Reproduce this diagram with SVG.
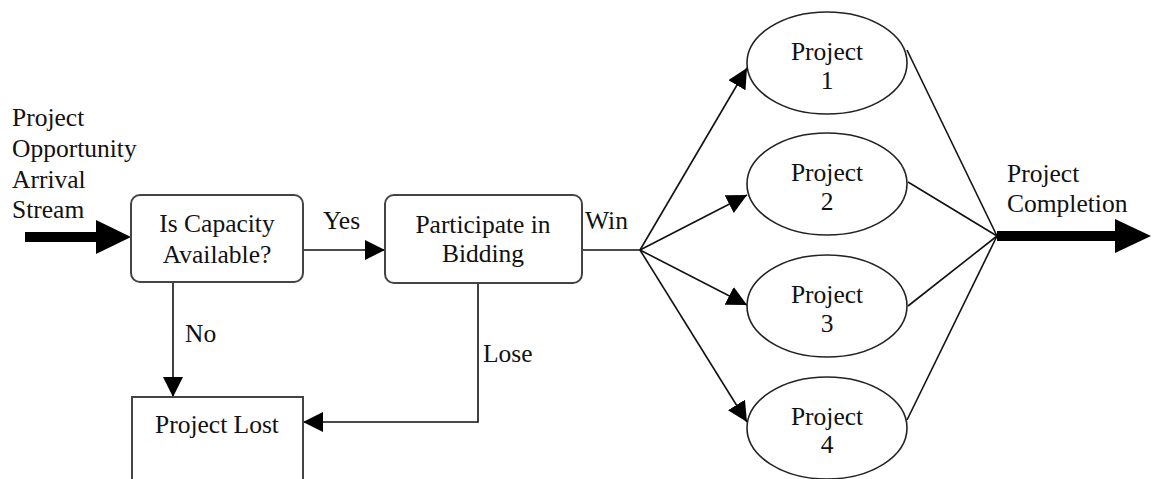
<svg xmlns="http://www.w3.org/2000/svg" width="1154" height="479" viewBox="0 0 1154 479">
  <style>
    text { font-family: "Liberation Serif", "Times New Roman", serif; font-size: 25.5px; fill: #111; }
    .mid { text-anchor: middle; }
    .box { fill: #fff; stroke: #444; stroke-width: 2; }
    .ell { fill: #fff; stroke: #222; stroke-width: 1.6; }
    .ln { fill: none; stroke: #111; stroke-width: 1.6; }
    .thick { fill: none; stroke: #000; stroke-width: 10; }
  </style>
  <defs>
    <marker id="arr" markerUnits="userSpaceOnUse" markerWidth="20" markerHeight="20" refX="20" refY="10" orient="auto">
      <path d="M0,0 L20,10 L0,20 z" fill="#000"/>
    </marker>
  </defs>

  <!-- connectors -->
  <g id="connectors">
    <!-- incoming stream -->
    <line class="thick" x1="25" y1="237" x2="100" y2="237"/>
    <path d="M96,220 L131,237 L96,254 z" fill="#000"/>
    <!-- Yes -->
    <line class="ln" x1="303" y1="250" x2="385" y2="250" marker-end="url(#arr)"/>
    <!-- No -->
    <line class="ln" x1="173" y1="282" x2="173" y2="397" marker-end="url(#arr)"/>
    <!-- Lose -->
    <polyline class="ln" points="478,283 478,422 303,422" marker-end="url(#arr)"/>
    <!-- Win fan-out -->
    <line class="ln" x1="582" y1="250" x2="640" y2="250"/>
    <line class="ln" x1="640" y1="250" x2="747" y2="68" marker-end="url(#arr)"/>
    <line class="ln" x1="640" y1="250" x2="747" y2="195" marker-end="url(#arr)"/>
    <line class="ln" x1="640" y1="250" x2="747" y2="305" marker-end="url(#arr)"/>
    <line class="ln" x1="640" y1="250" x2="747" y2="422" marker-end="url(#arr)"/>
    <!-- merge to completion -->
    <line class="ln" x1="907" y1="50" x2="997" y2="236"/>
    <line class="ln" x1="908" y1="182" x2="997" y2="236"/>
    <line class="ln" x1="908" y1="306" x2="997" y2="236"/>
    <line class="ln" x1="907" y1="420" x2="997" y2="236"/>
    <line class="thick" x1="997" y1="236" x2="1118" y2="236"/>
    <path d="M1115,219 L1151,236 L1115,253 z" fill="#000"/>
  </g>

  <g id="arrival-label">
    <text x="12" y="126">Project</text>
    <text x="12" y="157">Opportunity</text>
    <text x="12" y="188">Arrival</text>
    <text x="12" y="218">Stream</text>
  </g>

  <g id="capacity">
    <rect class="box" x="131" y="195" width="172" height="87" rx="9"/>
    <text class="mid" x="217" y="232">Is Capacity</text>
    <text class="mid" x="217" y="263">Available?</text>
  </g>

  <g id="bidding">
    <rect class="box" x="385" y="195" width="197" height="88" rx="9"/>
    <text class="mid" x="483" y="233">Participate in</text>
    <text class="mid" x="483" y="262">Bidding</text>
  </g>

  <g id="lost">
    <rect class="box" x="132" y="397" width="171" height="90"/>
    <text class="mid" x="217" y="433">Project Lost</text>
  </g>

  <g id="edge-labels">
    <text x="323" y="229">Yes</text>
    <text x="585" y="229">Win</text>
    <text x="185" y="342">No</text>
    <text x="483" y="362">Lose</text>
  </g>

  <g id="project1">
    <ellipse class="ell" cx="827" cy="63" rx="80" ry="51"/>
    <text class="mid" x="827" y="60">Project</text>
    <text class="mid" x="827" y="89">1</text>
  </g>
  <g id="project2">
    <ellipse class="ell" cx="827" cy="184" rx="80" ry="51"/>
    <text class="mid" x="827" y="181">Project</text>
    <text class="mid" x="827" y="210">2</text>
  </g>
  <g id="project3">
    <ellipse class="ell" cx="827" cy="306" rx="80" ry="51"/>
    <text class="mid" x="827" y="303">Project</text>
    <text class="mid" x="827" y="332">3</text>
  </g>
  <g id="project4">
    <ellipse class="ell" cx="827" cy="428" rx="80" ry="51"/>
    <text class="mid" x="827" y="425">Project</text>
    <text class="mid" x="827" y="453">4</text>
  </g>

  <g id="completion-label">
    <text x="1007" y="182">Project</text>
    <text x="1007" y="212">Completion</text>
  </g>
</svg>
